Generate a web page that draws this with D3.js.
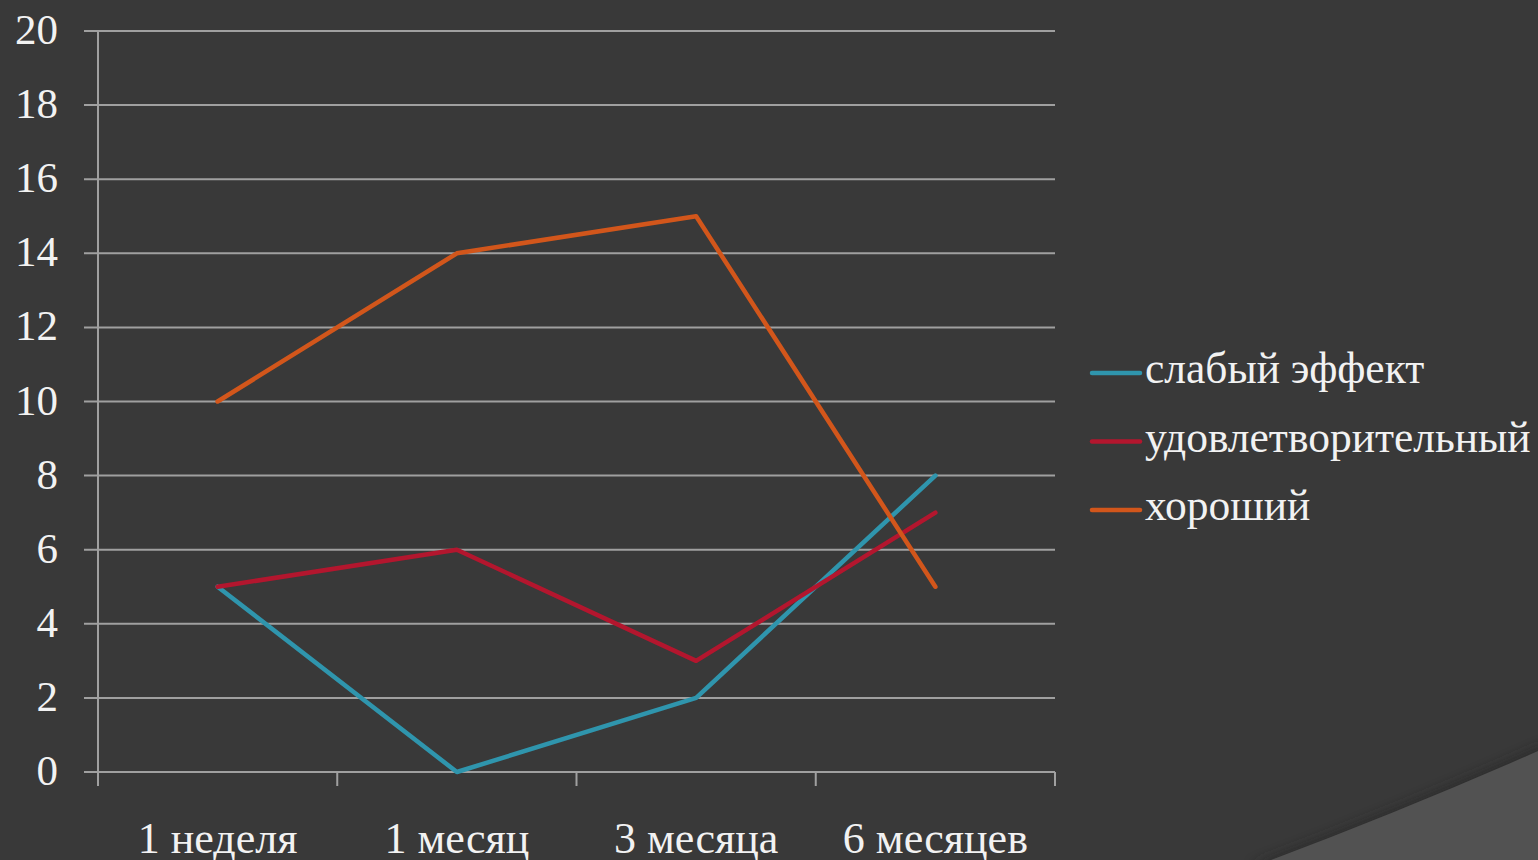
<!DOCTYPE html>
<html>
<head>
<meta charset="utf-8">
<script src="https://d3js.org/d3.v7.min.js"></script>
<style>
  html, body { margin: 0; padding: 0; background: #393939; overflow: hidden; }
</style>
</head>
<body>
<script>
// data
var categories = ["1 неделя", "1 месяц", "3 месяца", "6 месяцев"];
var seriesNames = ["слабый эффект", "удовлетворительный", "хороший"];
var weakValues = [5, 0, 2, 8];
var fairValues = [5, 6, 3, 7];
var goodValues = [10, 14, 15, 5];
var yTicks = [0, 2, 4, 6, 8, 10, 12, 14, 16, 18, 20];
var colors = ["#2f95ad", "#b3162e", "#d2561b"];

const W = 1538, H = 860;
const FONT = "font-family:'Liberation Serif','Times New Roman',serif";
const svg = d3.select("body").append("svg")
  .attr("width", W).attr("height", H);

// slide decoration bottom right
var defs = svg.append("defs");
var f = defs.append("filter").attr("id", "sh").attr("x", "-20%").attr("y", "-20%").attr("width", "140%").attr("height", "140%");
f.append("feGaussianBlur").attr("stdDeviation", 6);
svg.append("path")
  .attr("d", "M1250,866 Q1400,810 1545,745 L1545,866 Z")
  .attr("fill", "#262626").attr("opacity", 0.7).attr("filter", "url(#sh)");
svg.append("path")
  .attr("d", "M1255,866 Q1400,812 1545,748 L1545,866 Z")
  .attr("fill", "#525252");

const plotLeft = 98, plotRight = 1055, plotTop = 31, plotBottom = 772;

var x = d3.scaleBand().domain(categories).range([plotLeft, plotRight]);
var y = d3.scaleLinear().domain([0, 20]).range([plotBottom, plotTop]);

// gridlines
svg.append("g").selectAll("line").data(yTicks).enter().append("line")
  .attr("x1", plotLeft - 14).attr("x2", plotRight)
  .attr("y1", d => y(d)).attr("y2", d => y(d))
  .attr("stroke", "#a0a0a0").attr("stroke-width", 2);

// y axis line
svg.append("line").attr("x1", plotLeft).attr("x2", plotLeft)
  .attr("y1", plotTop).attr("y2", plotBottom + 14)
  .attr("stroke", "#a0a0a0").attr("stroke-width", 2);

// x ticks
var xTickPos = categories.map(c => x(c) + x.bandwidth());
svg.append("g").selectAll("line").data(xTickPos).enter().append("line")
  .attr("x1", d => d).attr("x2", d => d)
  .attr("y1", plotBottom).attr("y2", plotBottom + 14)
  .attr("stroke", "#a0a0a0").attr("stroke-width", 2);

// y labels
svg.append("g").selectAll("text").data(yTicks).enter().append("text")
  .attr("x", 58).attr("y", d => y(d) + 13)
  .attr("text-anchor", "end")
  .attr("style", FONT + ";font-size:43px")
  .attr("fill", "#f2f2f2")
  .text(d => d);

// x labels
svg.append("g").selectAll("text").data(categories).enter().append("text")
  .attr("x", d => x(d) + x.bandwidth() / 2)
  .attr("y", 853)
  .attr("text-anchor", "middle")
  .attr("style", FONT + ";font-size:44px")
  .attr("fill", "#f2f2f2")
  .text(d => d);

// lines
var allSeries = [weakValues, fairValues, goodValues];
var line = d3.line()
  .x((d, i) => x(categories[i]) + x.bandwidth() / 2)
  .y(d => y(d));
svg.append("g").selectAll("path").data(allSeries).enter().append("path")
  .attr("d", line)
  .attr("fill", "none")
  .attr("stroke", (d, i) => colors[i])
  .attr("stroke-width", 4.5)
  .attr("stroke-linejoin", "round")
  .attr("stroke-linecap", "round");

// legend
var lg = svg.append("g").selectAll("g").data(seriesNames).enter().append("g")
  .attr("transform", (d, i) => "translate(1092," + (373 + i * 68.5) + ")");
lg.append("line").attr("x1", 0).attr("x2", 48).attr("y1", 0).attr("y2", 0)
  .attr("stroke", (d, i) => colors[i]).attr("stroke-width", 4.5)
  .attr("stroke-linecap", "round");
lg.append("text").attr("x", 53).attr("y", 10)
  .attr("style", FONT + ";font-size:43.5px")
  .attr("fill", "#f2f2f2")
  .text(d => d);
</script>
</body>
</html>
